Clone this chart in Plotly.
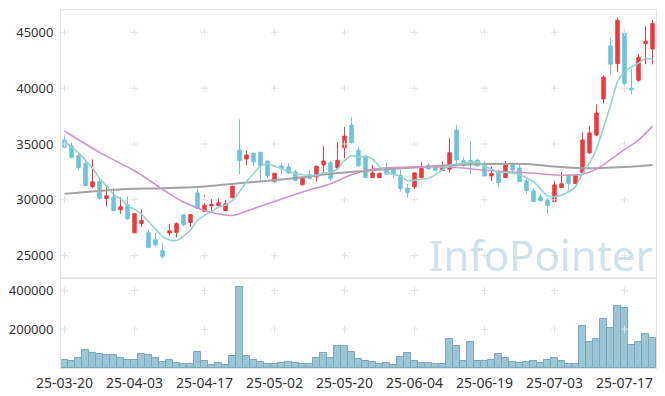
import plotly.graph_objects as go
import pandas as pd

dates = [
    "25-03-20", "25-03-21", "25-03-24", "25-03-25", "25-03-26", "25-03-27", "25-03-28", "25-03-31",
    "25-04-01", "25-04-02", "25-04-03", "25-04-04", "25-04-07", "25-04-08", "25-04-09", "25-04-10",
    "25-04-11", "25-04-14", "25-04-15", "25-04-16", "25-04-17", "25-04-18", "25-04-21", "25-04-22",
    "25-04-23", "25-04-24", "25-04-25", "25-04-28", "25-04-29", "25-04-30",
    "25-05-02", "25-05-07", "25-05-08", "25-05-09", "25-05-12", "25-05-13", "25-05-14", "25-05-15",
    "25-05-16", "25-05-19", "25-05-20", "25-05-21", "25-05-22", "25-05-23", "25-05-26", "25-05-27",
    "25-05-28", "25-05-29", "25-05-30",
    "25-06-02", "25-06-04", "25-06-05", "25-06-09", "25-06-10", "25-06-11", "25-06-12", "25-06-13",
    "25-06-16", "25-06-17", "25-06-18", "25-06-19", "25-06-20", "25-06-23", "25-06-24", "25-06-25",
    "25-06-26", "25-06-27", "25-06-30",
    "25-07-01", "25-07-02", "25-07-03", "25-07-04", "25-07-07", "25-07-08", "25-07-09", "25-07-10",
    "25-07-11", "25-07-14", "25-07-15", "25-07-16", "25-07-17", "25-07-18", "25-07-21", "25-07-22",
    "25-07-23",
]

opens = [35350, 34820, 33930, 33240, 31190, 31610, 30120, 30240, 29110, 29550,
         27050, 27880, 27050, 26430, 25450, 27030, 27080, 28660, 27970, 30620,
         28960, 29460, 29490, 29040, 30200, 34460, 33660, 34170, 34260, 33480,
         31670, 33040, 32950, 32500, 31340, 32260, 32050, 33130, 33330, 32860,
         34670, 36700, 34440, 33930, 31990, 31990, 32740, 32830, 32200, 31040,
         31160, 31990, 33100, 33010, 32620, 32740, 36250, 33510, 33540, 33540,
         33210, 32140, 32530, 31990, 33190, 32860, 31700, 30800, 30270, 29970,
         29850, 31100, 32200, 31460, 32440, 34220, 35800, 39040, 43780, 42200,
         44940, 40000, 40710, 43990, 43510]
highs = [35750, 35120, 34260, 33630, 33630, 31900, 31280, 31040, 30240, 30300,
         28800, 29110, 27320, 27020, 26130, 27830, 27980, 28720, 28720, 30980,
         30450, 30060, 30150, 30000, 31250, 37200, 34400, 34170, 34260, 33480,
         32400, 33280, 33280, 32680, 31960, 32620, 33050, 34800, 33480, 35150,
         36520, 37410, 34670, 33930, 33130, 32400, 33330, 32900, 32680, 31430,
         32430, 33370, 33280, 33050, 33420, 35510, 36700, 33810, 35210, 33650,
         33420, 33010, 32710, 33480, 33330, 33280, 31940, 31040, 30510, 30150,
         31700, 32470, 32230, 32230, 36040, 36610, 38540, 41130, 44530, 46250,
         44940, 41760, 43040, 45540, 46130]
lows = [34600, 33720, 32680, 31190, 31040, 30030, 29400, 28960, 28750, 28210,
        26990, 27560, 25690, 25830, 24730, 26810, 26640, 27620, 27560, 29170,
        28900, 29010, 29400, 29040, 30150, 32300, 33100, 33060, 31550, 31940,
        31550, 32320, 32320, 31640, 31340, 31870, 31640, 32350, 31700, 32740,
        33720, 35050, 33040, 31990, 31990, 31990, 32280, 31940, 30740, 30210,
        30980, 31940, 32700, 32650, 32600, 32470, 33060, 33000, 32300, 32950,
        32140, 31700, 31130, 31950, 32320, 31600, 30560, 29830, 29880, 28750,
        29830, 31070, 30890, 31430, 32410, 34080, 35710, 38630, 41250, 41460,
        40270, 39460, 40560, 42140, 42140]
closes = [34700, 33780, 32880, 31280, 31610, 30120, 30360, 29050, 29380, 28300,
          28750, 28150, 25740, 25980, 24940, 27230, 27860, 27770, 28660, 29220,
          29520, 29580, 29730, 29640, 31220, 33510, 34020, 33420, 33060, 32170,
          32380, 32830, 32410, 31730, 31960, 31900, 33010, 33480, 31880, 33540,
          35710, 35120, 33040, 31990, 32410, 32380, 32300, 32350, 31010, 30650,
          32410, 32830, 32770, 32650, 32830, 34220, 33570, 33060, 33190, 33050,
          32140, 32350, 31550, 33150, 32680, 31640, 30830, 29850, 29910, 29490,
          31340, 31430, 31460, 32200, 35360, 35980, 37770, 40980, 42140, 46070,
          40420, 39850, 42740, 44200, 45780]
volumes = [41000, 36000, 50000, 92000, 77000, 70000, 67000, 67000, 50000, 41000,
           41000, 70000, 67000, 50000, 31000, 41000, 24000, 19000, 19000, 82000,
           36000, 14000, 24000, 15000, 60000, 420000, 60000, 41000, 29000, 19000,
           19000, 24000, 29000, 24000, 19000, 19000, 50000, 75000, 50000, 116000,
           111000, 80000, 45000, 36000, 29000, 19000, 24000, 14000, 55000, 75000,
           34000, 24000, 24000, 19000, 19000, 147000, 111000, 34000, 133000, 34000,
           34000, 39000, 70000, 50000, 29000, 24000, 29000, 34000, 24000, 39000,
           50000, 34000, 19000, 19000, 219000, 133000, 152000, 255000, 204000, 322000,
           311000, 121000, 132000, 173000, 157000]

# first 4 MA5 values (need earlier closes not shown)
ma5_head = [35200, 34750, 34200, 33550]
# MA20 / MA60 at these trading-day indices
ma20_idx = [0, 5, 10, 14, 17, 20, 24, 26, 30, 34, 38, 41, 44, 50, 56, 60, 67, 70, 74, 76, 78, 80, 82, 84]
ma20_val = [36160, 34250, 32600, 30950, 29800, 29050, 28600, 29000, 29850, 30700, 31450, 32250,
            32750, 32950, 32900, 32650, 32380, 32230, 32290, 32750, 33600, 34500, 35350, 36600]
ma60_idx = [0, 9, 14, 20, 26, 29, 34, 39, 44, 50, 55, 60, 66, 70, 74, 80, 84]
ma60_val = [30540, 30980, 31040, 31200, 31550, 31700, 32030, 32400, 32650, 32900, 33100, 33200,
            33200, 32980, 32830, 32950, 33130]

price_ticks = [25000, 30000, 35000, 40000, 45000]
volume_ticks = [200000, 400000]
x_tick_idx = [0, 10, 20, 30, 40, 50, 60, 70, 80]

RED = "#ec3a3f"
BLUE = "#6ec3da"

ma5 = pd.Series(closes).rolling(5).mean().tolist()
ma5[:4] = ma5_head

x_ticks = [dates[i] for i in x_tick_idx]

fig = go.Figure()

fig.add_trace(go.Candlestick(
    x=dates, open=opens, high=highs, low=lows, close=closes,
    xaxis="x", yaxis="y", showlegend=False, whiskerwidth=0,
    increasing=dict(line=dict(color=RED, width=1), fillcolor=RED),
    decreasing=dict(line=dict(color=BLUE, width=1), fillcolor=BLUE)))

fig.add_trace(go.Bar(x=dates, y=volumes, xaxis="x2", yaxis="y2", showlegend=False,
                     marker=dict(color="#9cc4d4", line=dict(color="#78a9bd", width=1))))

# plus-shaped grid markers
PLUS = dict(symbol="cross-thin", size=5, line=dict(color="#e2e2e2", width=1))
fig.add_trace(go.Scatter(
    x=[d for d in x_ticks for _ in price_ticks], y=[v for _ in x_ticks for v in price_ticks],
    mode="markers", xaxis="x", yaxis="y", hoverinfo="skip", showlegend=False, marker=PLUS))
fig.add_trace(go.Scatter(
    x=[d for d in x_ticks for _ in volume_ticks], y=[v for _ in x_ticks for v in volume_ticks],
    mode="markers", xaxis="x2", yaxis="y2", hoverinfo="skip", showlegend=False, marker=PLUS))

fig.add_trace(go.Scatter(x=[dates[i] for i in ma60_idx], y=ma60_val, mode="lines",
                         line=dict(color="#a3a3a3", width=2, shape="spline", smoothing=1.0),
                         xaxis="x", yaxis="y", showlegend=False))
fig.add_trace(go.Scatter(x=[dates[i] for i in ma20_idx], y=ma20_val, mode="lines",
                         line=dict(color="#cc96c8", width=1.6, shape="spline", smoothing=1.0),
                         xaxis="x", yaxis="y", showlegend=False))
fig.add_trace(go.Scatter(x=dates, y=ma5, mode="lines",
                         line=dict(color="#93d3cd", width=1.6, shape="spline", smoothing=0.5),
                         xaxis="x", yaxis="y", showlegend=False))

VOL_FRAC = 90 / 358
LINE = "#e3e3e3"
tickfont = dict(family="Noto Sans", size=13, color="#333333")

# the page body keeps its default 8px margin, so the figure is sized to fill the rest
fig.update_layout(
    width=657, height=388,
    margin=dict(l=53, r=9, t=2, b=28, autoexpand=False),
    paper_bgcolor="white", plot_bgcolor="white",
    bargap=0,
    xaxis=dict(type="category", categoryorder="array", categoryarray=dates,
               domain=[0, 1], anchor="y", range=[-0.5, 84.5], automargin=False,
               showticklabels=False, showgrid=False, zeroline=False,
               showline=True, mirror=True, linecolor=LINE, linewidth=1,
               rangeslider=dict(visible=False)),
    yaxis=dict(domain=[VOL_FRAC, 1], range=[23000, 47000], tickvals=price_ticks,
               tickformat="d", showgrid=False, zeroline=False, automargin=False,
               showline=True, mirror=True, linecolor=LINE, linewidth=1,
               ticks="outside", ticklen=4, tickcolor="rgba(0,0,0,0)", tickfont=tickfont),
    xaxis2=dict(type="category", categoryorder="array", categoryarray=dates,
                domain=[0, 1], anchor="y2", range=[-0.5, 84.5], automargin=False,
                tickvals=x_ticks, tickangle=0, showgrid=False, zeroline=False,
                showline=True, mirror=True, linecolor=LINE, linewidth=1,
                ticks="outside", ticklen=2, tickcolor="rgba(0,0,0,0)",
                tickfont=dict(family="Noto Sans", size=14, color="#333333")),
    yaxis2=dict(domain=[0, VOL_FRAC], range=[0, 464000], tickvals=volume_ticks,
                tickformat="d", showgrid=False, zeroline=False, automargin=False,
                showline=True, mirror=True, linecolor=LINE, linewidth=1,
                ticks="outside", ticklen=4, tickcolor="rgba(0,0,0,0)", tickfont=tickfont),
    annotations=[dict(text="InfoPointer", xref="paper", yref="paper",
                      x=0.807, y=0.318, xanchor="center", yanchor="middle",
                      showarrow=False,
                      font=dict(family="Noto Sans", size=42, color="rgba(170,200,218,0.55)"))],
)

fig.write_html("out.html")
